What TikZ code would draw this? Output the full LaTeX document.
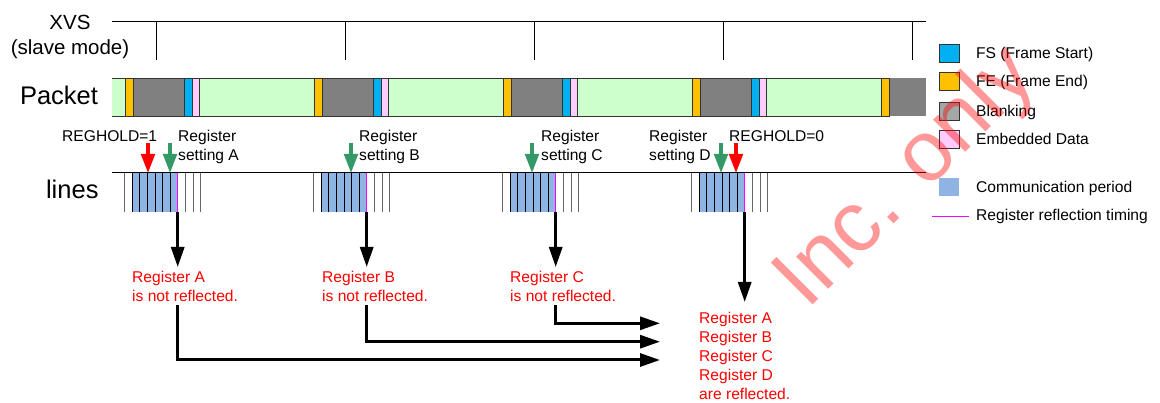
\documentclass[tikz,border=0pt]{standalone}
\usepackage{fontspec}
\setmainfont{Liberation Sans}
\usetikzlibrary{arrows.meta}
\definecolor{fsblue}{RGB}{0,176,240}
\definecolor{feorange}{RGB}{255,192,0}
\definecolor{blankgray}{RGB}{128,128,128}
\definecolor{legendgray}{RGB}{166,166,166}
\definecolor{embpink}{RGB}{255,204,255}
\definecolor{actgreen}{RGB}{204,255,204}
\definecolor{commblue}{RGB}{142,180,227}
\definecolor{setgreen}{RGB}{51,153,102}
\definecolor{reflmag}{RGB}{255,0,255}
\tikzset{
  lbl/.style={font=\fontsize{15.6}{19}\selectfont,inner sep=0pt,align=left},
  biglbl/.style={font=\fontsize{25.5}{30}\selectfont,inner sep=0pt},
  redtxt/.style={lbl,text=red},
  seg/.style={draw=black!80,line width=.8pt},
  setarrow/.style={line width=3.4pt,-{Triangle[width=13.5pt,length=19pt]}},
  flowarrow/.style={line width=3pt,-{Triangle[width=13pt,length=20pt]}},
}

\begin{document}
\begin{tikzpicture}[x=1pt,y=-1pt]
\useasboundingbox (0,0) rectangle (1160,403);
% XVS
\node[font=\fontsize{20.5}{25}\selectfont,inner sep=0pt,align=center,anchor=north] (xvs) at (70,14.6) {XVS\\(slave mode)};
\draw[line width=1pt] (112,22) -- (926,22);
\foreach \k in {0,...,4} \draw[line width=1pt] (156+189*\k,22) -- (156+189*\k,60);
% Packet
\node[biglbl,anchor=base] (packet) at (59,105) {Packet};
\fill[actgreen] (112,78) rectangle (889,116);
\draw[black!80,line width=.8pt] (112,78) -- (889,78) (112,116) -- (889,116);
\foreach \k in {0,...,3}{
  \pgfmathsetmacro{\b}{125+189*\k}
  \filldraw[seg,fill=feorange] (\b,78) rectangle (\b+8,116);
  \filldraw[seg,fill=blankgray] (\b+8,78) rectangle (\b+59,116);
  \filldraw[seg,fill=fsblue] (\b+59,78) rectangle (\b+67,116);
  \filldraw[seg,fill=embpink] (\b+67,78) rectangle (\b+74,116);
}
\fill[blankgray] (889,78) rectangle (926,116);
\filldraw[seg,fill=feorange] (881,78) rectangle (889,116);
% lines
\node[biglbl,anchor=base] (lines) at (72.3,198.3) {lines};
\draw[line width=1pt] (112,173) -- (926,173);
\foreach \k/\n in {0/A,1/B,2/C,3/D}{
  \pgfmathsetmacro{\b}{124.5+189*\k}
  \fill[commblue] (\b+7.6,173) rectangle (\b+53.2,212);
  \foreach \i in {0,...,10}{
    \ifnum\i<1 \def\lc{black!60}\else\ifnum\i>7 \def\lc{black!60}\else\def\lc{black}\fi\fi
    \draw[\lc,line width=.8pt] (\b+7.6*\i,173) -- (\b+7.6*\i,212);
  }
  \draw[reflmag,line width=1.3pt] (\b+53.2,173) -- (\b+53.2,212);
  \coordinate (rf\n) at (\b+53.2,212);
}
% settings
\node[lbl,anchor=north west] (holdon) at (62,130.4) {REGHOLD=1};
\node[lbl,anchor=north west] (setA) at (178,130.4) {Register\\setting A};
\node[lbl,anchor=north west] (setB) at (359,130.4) {Register\\setting B};
\node[lbl,anchor=north west] (setC) at (541,130.4) {Register\\setting C};
\node[lbl,anchor=north west] (setD) at (649,130.4) {Register\\setting D};
\node[lbl,anchor=north west] (holdoff) at (729,130.4) {REGHOLD=0};
\coordinate (onpt) at (148,173);
\coordinate (offpt) at (736,173);
\coordinate (wrA) at (170,173);
\coordinate (wrB) at (351,173);
\coordinate (wrC) at (532,173);
\coordinate (wrD) at (721,173);
\draw[setarrow,red] ([yshift=30pt]onpt) -- (onpt);
\draw[setarrow,red] ([yshift=30pt]offpt) -- (offpt);
\foreach \n in {A,B,C,D} \draw[setarrow,setgreen] ([yshift=30pt]wr\n) -- (wr\n);
% results
\node[redtxt,anchor=north west] (nrA) at (132,270.5) {Register A\\is not reflected.};
\node[redtxt,anchor=north west] (nrB) at (322,270.5) {Register B\\is not reflected.};
\node[redtxt,anchor=north west] (nrC) at (510,270.5) {Register C\\is not reflected.};
\node[redtxt,anchor=north west] (nrD) at (699,311.5) {Register A\\Register B\\Register C\\Register D\\are reflected.};
\foreach \n in {A,B,C} \draw[flowarrow] (rf\n) -- ([yshift=3.5pt]rf\n |- nr\n.north);
\draw[flowarrow] (rfD) -- ([yshift=9.5pt]rfD |- nrD.north);
\coordinate (inA) at (660,360);
\coordinate (inB) at (660,341.7);
\coordinate (inC) at (660,323.3);
\foreach \n in {A,B,C} \draw[flowarrow] ([yshift=-4pt]rf\n |- nr\n.south) |- (in\n);
% legend
\foreach \c/\t/\y in {fsblue/FS (Frame Start)/53,feorange/FE (Frame End)/81,legendgray/Blanking/111,embpink/Embedded Data/139}{
  \filldraw[seg,fill=\c] (939,\y-9) rectangle (959,\y+9);
  \node[lbl,anchor=base west] at (976,\y+5.6) {\t};
}
\fill[commblue] (939,178) rectangle (959,196);
\node[lbl,anchor=base west] (legcomm) at (976,192.6) {Communication period};
\draw[reflmag,line width=1.5pt] (932,216.7) -- (969,216.7);
\node[lbl,anchor=base west] (legrefl) at (976,220.3) {Register reflection timing};
% watermark
\node[rotate=45,anchor=base west,inner sep=0pt,text=red,opacity=.4,font=\fontsize{86}{86}\selectfont] (wm) at (807,311) {Inc. only};
\end{tikzpicture}
\end{document}
